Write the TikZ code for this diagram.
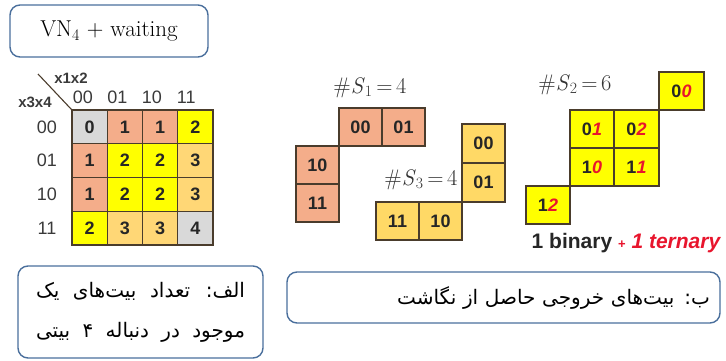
\documentclass[tikz,border=0pt]{standalone}
\usepackage{fontspec}
\newfontfamily\arial{Liberation Sans}
\newfontfamily\arabicfont[Script=Arabic]{DejaVu Sans}
\TeXXeTstate=1
\definecolor{boxc}{HTML}{4A6F9C}
\definecolor{gridc}{HTML}{4A3C2C}
\definecolor{kc0}{HTML}{D9D9D9}
\definecolor{kc1}{HTML}{F4AD8A}
\definecolor{kc2}{HTML}{FFFF00}
\definecolor{kc3}{HTML}{FFD776}
\definecolor{kc4}{HTML}{D9D9D9}
\definecolor{goldc}{HTML}{FFD966}
\definecolor{tred}{HTML}{E8152D}
\definecolor{labc}{HTML}{3A3A3A}
\tikzset{
  roundbox/.style={draw=boxc, line width=1.4pt, rounded corners=10pt, inner sep=0pt},
  kcell/.style={draw=gridc, line width=1.2pt, minimum width=35.25pt, minimum height=33.75pt,
    inner sep=0pt, font=\arial\bfseries\fontsize{18}{18}\selectfont, text=black!85},
  scell/.style={draw=gridc, line width=1.4pt, minimum height=38pt,
    inner sep=0pt, font=\arial\bfseries\fontsize{18}{18}\selectfont, text=black!85},
  axlab/.style={font=\arial\fontsize{18}{18}\selectfont, text=labc, inner sep=0pt},
  varlab/.style={font=\arial\bfseries\fontsize{15}{15}\selectfont, text=labc, inner sep=0pt},
  count/.style={font=\fontsize{22.5}{22.5}\selectfont, text=black!80, inner sep=0pt},
}
\newcommand{\tern}[1]{{\color{tred}\itshape #1}}
\begin{document}
\begin{tikzpicture}[x=1pt, y=-1pt]
\useasboundingbox (0,0) rectangle (726,361);

% title box
\node[roundbox, minimum width=198pt, minimum height=52pt, font=\fontsize{23}{23}\selectfont]
  (title) at (109,31) {VN\textsubscript{4} + waiting};

% Karnaugh map of the number of ones
\foreach \r/\c/\v in {0/0/0,0/1/1,0/2/1,0/3/2,
                       1/0/1,1/1/2,1/2/2,1/3/3,
                       2/0/1,2/1/2,2/2/2,2/3/3,
                       3/0/2,3/1/3,3/2/3,3/3/4}
  \node[kcell, fill=kc\v] (k\r\c) at ({72+35.25*(\c+0.5)}, {110+33.75*(\r+0.5)}) {\v};

\foreach \t [count=\i from 0] in {00,01,10,11} {
  \node[axlab] (col\i) at ({83+34.4*\i}, 97) {\t};
  \node[axlab] (row\i) at (47, {110+33.75*(\i+0.5)}) {\t};
}
\node[varlab] (x12) at (71,78) {x1x2};
\node[varlab] (x34) at (35,102) {x3x4};
\coordinate (diag) at (38,74);
\draw[gridc, line width=1.1pt] (diag) -- (k00.north west);

% S1 group
\node[count] (s1) at (370,88) {\#\textit{S}\textsubscript{1}\,=\,4};
\node[scell, fill=kc1, minimum width=43pt] (a00) at (360.5,127) {00};
\node[scell, fill=kc1, minimum width=43pt] (a01) at (403.5,127) {01};
\node[scell, fill=kc1, minimum width=43pt] (a10) at (317.5,165) {10};
\node[scell, fill=kc1, minimum width=43pt] (a11) at (317.5,203) {11};

% S3 group
\node[count] (s3) at (421,180) {\#\textit{S}\textsubscript{3}\,=\,4};
\node[scell, fill=goldc, minimum width=43pt] (c11) at (397.5,221) {11};
\node[scell, fill=goldc, minimum width=43pt] (c10) at (440.5,221) {10};
\node[scell, fill=goldc, minimum width=43pt, minimum height=39pt] (c00) at (483.5,143.5) {00};
\node[scell, fill=goldc, minimum width=43pt, minimum height=39pt] (c01) at (483.5,182.5) {01};

% S2 group
\node[count] (s2) at (575,85) {\#\textit{S}\textsubscript{2}\,=\,6};
\node[scell, fill=kc2, minimum width=45pt] (b00) at (681.5,91) {0\tern{0}};
\node[scell, fill=kc2, minimum width=44pt] (b01) at (592,129) {0\tern{1}};
\node[scell, fill=kc2, minimum width=45pt] (b02) at (636.5,129) {0\tern{2}};
\node[scell, fill=kc2, minimum width=44pt] (b10) at (592,167) {1\tern{0}};
\node[scell, fill=kc2, minimum width=45pt] (b11) at (636.5,167) {1\tern{1}};
\node[scell, fill=kc2, minimum width=44pt] (b12) at (548,205) {1\tern{2}};

\node[inner sep=0pt, font=\arial\bfseries\fontsize{21}{21}\selectfont, text=black!85]
  (code) at (626,243) {1 binary {\color{tred}\fontsize{13}{13}\selectfont+} \tern{1 ternary}};

% captions
\node[roundbox, minimum width=245pt, minimum height=92pt, align=center,
      font=\arabicfont\fontsize{20}{40}\selectfont]
  (capA) at (140.5,312)
  {\makebox[209pt]{\beginR الف: \hfill تعداد \hfill بیت‌های \hfill یک\endR}\\
   \makebox[209pt]{\beginR موجود \hfill در \hfill دنباله \hfill ۴ \hfill بیتی\endR}};
\node[roundbox, minimum width=433pt, minimum height=51pt, text width=413pt, align=right,
      font=\arabicfont\fontsize{20}{24}\selectfont]
  (capB) at (503.5,297.5)
  {\beginR ب: بیت‌های خروجی حاصل از نگاشت\endR};
\end{tikzpicture}
\end{document}
